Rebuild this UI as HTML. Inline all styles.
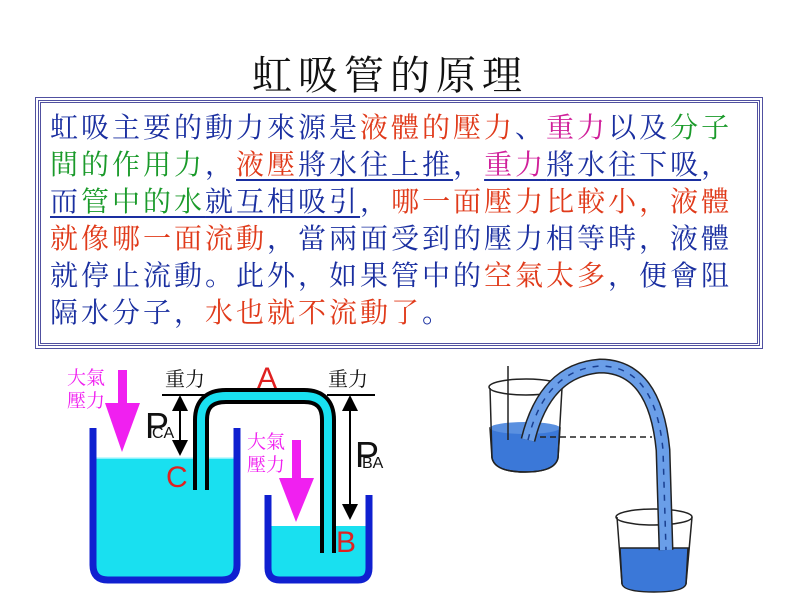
<!DOCTYPE html>
<html><head><meta charset="utf-8"><style>
body{margin:0;width:800px;height:600px;background:#fff;overflow:hidden;position:relative;font-family:"Liberation Serif","Noto Serif CJK SC","Noto Sans CJK TC",serif}
.t{position:absolute;left:0;width:780px;top:44px;text-align:center;font-size:40px;letter-spacing:6px;color:#111}
.box{position:absolute;left:38px;top:100px;width:716px;height:240px;border:3px double #5050a0;outline:1px solid #5050a0;outline-offset:2px}
.txt{position:absolute;left:50px;top:110px;width:710px;font-size:28px;line-height:37px;letter-spacing:3px;color:#1a2fa0;white-space:nowrap}
.r{color:#e03a1a}.m{color:#d0209a}.g{color:#1a9a2a}
.u{text-decoration:underline;text-underline-offset:5px;text-decoration-thickness:2px}
</style></head><body>
<div class="t">虹吸管的原理</div>
<div class="box"></div>
<div class="txt">虹吸主要的動力來源是<span class="r">液體的壓力</span>、<span class="m">重力</span>以及<span class="g">分子</span><br><span class="g">間的作用力</span>，<span class="u"><span class="r">液壓</span>將水往上推</span>，<span class="u"><span class="m">重力</span>將水往下吸</span>，<br><span class="u">而<span class="g">管中的水</span>就互相吸引</span>，<span class="r">哪一面壓力比較小，液體</span><br><span class="r">就像哪一面流動</span>，當兩面受到的壓力相等時，液體<br>就停止流動。此外，如果管中的<span class="r">空氣太多</span>，便會阻<br>隔水分子，<span class="r">水也就不流動了</span>。</div>
<svg width="800" height="600" style="position:absolute;left:0;top:0" font-family="Liberation Sans,sans-serif">
<defs><marker id="a" markerWidth="8" markerHeight="8" refX="4" refY="4" orient="auto-start-reverse"><path d="M0,0L8,4L0,8z" fill="#000"/></marker></defs>
<path d="M93,458 L237,458 L237,565 Q237,578 224,578 L106,578 Q93,578 93,565Z" fill="#19e0f0"/>
<line x1="93" y1="458" x2="237" y2="458" stroke="#b0f8ff" stroke-width="1.5"/>
<path d="M93,428 L93,565 Q93,580 108,580 L222,580 Q237,580 237,565 L237,428" fill="none" stroke="#1020d0" stroke-width="7"/>
<path d="M268,526 L369,526 L369,570 Q369,578 360,578 L277,578 Q268,578 268,570Z" fill="#19e0f0"/>
<path d="M268,495 L268,568 Q268,580 280,580 L358,580 Q369,580 369,568 L369,495" fill="none" stroke="#1020d0" stroke-width="7"/>
<path d="M201,490 L201,420 Q201,396 226,396 L304,396 Q328,396 328,420 L328,553" fill="none" stroke="#000" stroke-width="16"/>
<path d="M201,490 L201,420 Q201,396 226,396 L304,396 Q328,396 328,420 L328,553" fill="none" stroke="#19e0f0" stroke-width="8"/>
<rect x="118" y="370" width="9" height="35" fill="#f020f0"/><path d="M105,403 L140,403 L122,452Z" fill="#f020f0"/>
<rect x="292" y="440" width="9" height="40" fill="#f020f0"/><path d="M279,478 L314,478 L296,522Z" fill="#f020f0"/>
<g font-family="Noto Serif CJK SC,serif" font-size="19" fill="#f020f0"><text x="67" y="384">大氣</text><text x="67" y="407">壓力</text><text x="247" y="448">大氣</text><text x="247" y="471">壓力</text></g>
<g font-family="Noto Serif CJK SC,serif" font-size="20" fill="#111"><text x="165" y="386">重力</text><text x="328" y="386">重力</text></g>
<line x1="162" y1="395" x2="206" y2="395" stroke="#000" stroke-width="2"/>
<line x1="327" y1="395" x2="375" y2="395" stroke="#000" stroke-width="2"/>
<line x1="180" y1="403" x2="180" y2="448" stroke="#000" stroke-width="2" marker-start="url(#a)" marker-end="url(#a)"/>
<line x1="350" y1="403" x2="350" y2="512" stroke="#000" stroke-width="2" marker-start="url(#a)" marker-end="url(#a)"/>
<text x="145" y="438" font-size="36" fill="#111">P</text><text x="152" y="438" font-size="16" fill="#111">CA</text>
<text x="355" y="467" font-size="36" fill="#111">P</text><text x="362" y="468" font-size="16" fill="#111">BA</text>
<text x="257" y="388" font-size="30" fill="#e02020">A</text>
<text x="166" y="487" font-size="30" fill="#e02020">C</text>
<text x="336" y="552" font-size="30" fill="#e02020">B</text>
<path d="M490,428 L560,428 L558,458 Q555,472 525,472 Q495,472 492,458Z" fill="#3b78d8" stroke="#222" stroke-width="1.5"/>
<ellipse cx="525" cy="428" rx="35" ry="6" fill="#5a90e0"/>
<path d="M490,388 L492,458 Q495,472 525,472 Q555,472 558,458 L562,388" fill="none" stroke="#222" stroke-width="1.5"/>
<ellipse cx="526" cy="387" rx="37" ry="8" fill="none" stroke="#222" stroke-width="1.5"/>
<line x1="508" y1="366" x2="508" y2="440" stroke="#222" stroke-width="1.5"/>
<path d="M620,548 L688,548 L686,584 Q684,592 654,592 Q624,592 622,584Z" fill="#3b78d8" stroke="#222" stroke-width="1.5"/>
<path d="M617,517 L622,584 M692,517 L686,584" fill="none" stroke="#222" stroke-width="1.5"/>
<ellipse cx="654" cy="517" rx="38" ry="8" fill="none" stroke="#222" stroke-width="1.5"/>
<path d="M528,440 Q545,370 600,366 Q655,366 663,450 L666,550" fill="none" stroke="#222" stroke-width="15"/>
<path d="M528,440 Q545,370 600,366 Q655,366 663,450 L666,550" fill="none" stroke="#6a9ee8" stroke-width="12"/>
<path d="M528,440 Q545,370 600,366 Q655,366 663,450 L666,550" fill="none" stroke="#1a3f90" stroke-width="1.5" stroke-dasharray="6,7"/>
<line x1="540" y1="437" x2="652" y2="437" stroke="#222" stroke-width="1.5" stroke-dasharray="6,4"/>
</svg>
</body></html>
